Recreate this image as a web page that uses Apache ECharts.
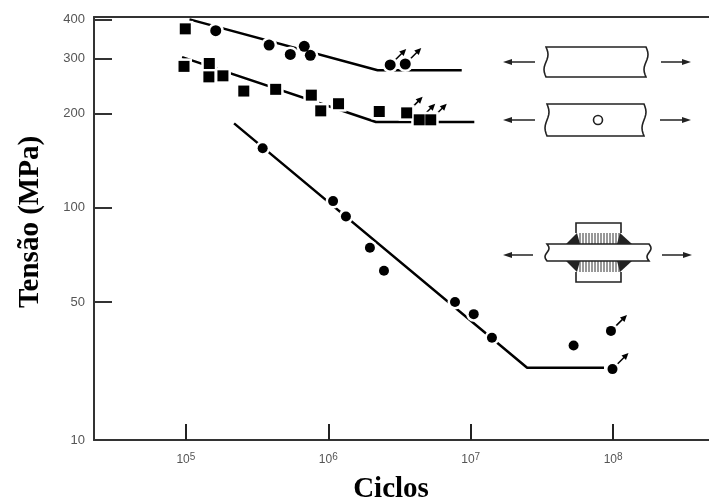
<!DOCTYPE html>
<html>
<head>
<meta charset="utf-8">
<style>
  html, body { margin: 0; padding: 0; background: #fff; }
  #chart { width: 709px; height: 504px; }
</style>
<script src="https://cdn.jsdelivr.net/npm/echarts@6/dist/echarts.min.js"></script>
</head>
<body>
<div id="chart"></div>
<script>
// [ciclos, tensão em MPa]
var plainLine = [[1.06e5, 400], [2.22e6, 275], [8.65e6, 275]];
var plainPoints = [[1.62e5, 368], [3.84e5, 331], [5.41e5, 309], [6.78e5, 328], [7.48e5, 307]];
var plainRunouts = [[2.72e6, 286], [3.47e6, 288]];

var holeLine = [[0.94e5, 303], [2.16e6, 188], [1.06e7, 188]];
var holePoints = [[0.99e5, 373], [0.97e5, 283], [1.46e5, 289], [1.45e5, 262], [1.82e5, 264], [2.55e5, 236],
  [4.27e5, 239], [7.6e5, 229], [8.85e5, 204], [1.18e6, 215], [2.28e6, 203]];
var holeRunouts = [[3.55e6, 201], [4.35e6, 191], [5.24e6, 191]];

var weldLine = [[2.18e5, 186], [2.49e7, 30.8], [8.63e7, 30.8]];
var weldPoints = [[3.46e5, 155], [1.08e6, 105], [1.33e6, 93.8], [1.96e6, 74.5], [2.46e6, 62.9],
  [7.76e6, 50], [1.05e7, 45.7], [1.41e7, 38.4], [5.28e7, 36.3]];
var weldRunouts = [[9.66e7, 40.4], [9.9e7, 30.5]];

var xTicks = [1e5, 1e6, 1e7, 1e8];
// no original a escala e interrompida abaixo de 50: o "10" fica no fim do eixo, em 18.1
var yBreakValue = 18.1;
var yTicks = [yBreakValue, 50, 100, 200, 300, 400];

var ink = '#000';
var axisInk = '#333';
var labelInk = '#555';

// marca branca por baixo abre o pequeno corte na linha, como no original
function markSeries(points, symbol, size) {
  return [{
    type: 'scatter', data: points, symbol: symbol, symbolSize: size + 5, z: 3, silent: true,
    itemStyle: { color: '#fff', opacity: 1 }
  }, {
    type: 'scatter', data: points, symbol: symbol, symbolSize: size, z: 4, silent: true,
    itemStyle: { color: ink, opacity: 1 }
  }];
}

function lineSeries(points) {
  return {
    type: 'line', data: points, symbol: 'none', z: 2, silent: true,
    lineStyle: { color: ink, width: 2.5 }
  };
}

// seta curta saindo do ponto: corpo de prova que nao rompeu
function renderRunout(params, api) {
  var p = api.coord([api.value(0), api.value(1)]);
  var tip = [p[0] + 16, p[1] - 16];
  return {
    type: 'group',
    children: [{
      type: 'line',
      shape: { x1: p[0], y1: p[1], x2: tip[0] - 3, y2: tip[1] + 3 },
      style: { stroke: ink, lineWidth: 1.5 }
    }, {
      type: 'polygon',
      shape: { points: [tip, [tip[0] - 7, tip[1] + 2.5], [tip[0] - 2.5, tip[1] + 7]] },
      style: { fill: ink }
    }]
  };
}

function runoutSeries(points) {
  return {
    type: 'custom', data: points, renderItem: renderRunout, z: 3, silent: true, clip: false,
    encode: { x: 0, y: 1 }
  };
}

function arrow(x1, x2, y) {
  var dir = x2 > x1 ? 1 : -1;
  return [{
    type: 'line',
    shape: { x1: x1, y1: y, x2: x2 - dir * 6, y2: y },
    style: { stroke: '#222', lineWidth: 1.5 }
  }, {
    type: 'polygon',
    shape: { points: [[x2, y], [x2 - dir * 9, y - 3], [x2 - dir * 9, y + 3]] },
    style: { fill: '#222' }
  }];
}

// tira com as pontas onduladas
function strip(x0, x1, y0, y1) {
  var pts = [];
  var i;
  for (i = 0; i <= 12; i++) {
    pts.push([x1 + 2 * Math.sin(i / 6 * Math.PI), y0 + (y1 - y0) * i / 12]);
  }
  for (i = 12; i >= 0; i--) {
    pts.push([x0 + 2 * Math.sin(i / 6 * Math.PI), y0 + (y1 - y0) * i / 12]);
  }
  return {
    type: 'polygon', z: 2,
    shape: { points: pts },
    style: { fill: '#fff', stroke: '#222', lineWidth: 1.6 }
  };
}

function weldBlock(yOuter, yInner, yPlate) {
  var els = [{
    type: 'polyline',
    shape: { points: [[576, yInner], [576, yOuter], [621, yOuter], [621, yInner]] },
    style: { fill: 'none', stroke: '#222', lineWidth: 1.6 }
  }, {
    type: 'polygon',
    shape: { points: [[566, yPlate], [577, yInner], [580, yPlate]] },
    style: { fill: '#222' }
  }, {
    type: 'polygon',
    shape: { points: [[632, yPlate], [620, yInner], [617, yPlate]] },
    style: { fill: '#222' }
  }];
  for (var x = 580; x < 620; x += 3) {
    els.push({
      type: 'line',
      shape: { x1: x, y1: yInner, x2: x, y2: yPlate },
      style: { stroke: '#333', lineWidth: 1 }
    });
  }
  return els;
}

var sketches = [].concat(
  arrow(535, 503, 62), arrow(661, 691, 62), [strip(546, 646, 47, 77)],
  arrow(535, 503, 120), arrow(660, 691, 120), [strip(547, 644, 104, 136), {
    type: 'circle', z: 3,
    shape: { cx: 598, cy: 120, r: 4.5 },
    style: { fill: '#fff', stroke: '#222', lineWidth: 1.6 }
  }],
  arrow(533, 503, 255), arrow(662, 692, 255),
  weldBlock(223, 233, 244), weldBlock(282, 272, 261), [strip(547, 649, 244, 261)]
);

var chart = echarts.init(document.getElementById('chart'));
chart.setOption({
  animation: false,
  backgroundColor: '#fff',
  grid: { left: 94, right: 0, top: 17, bottom: 64 },
  xAxis: [{
    type: 'log',
    min: 22630,
    max: 4.714e8,
    axisLine: { lineStyle: { color: axisInk, width: 2 } },
    axisTick: { inside: true, length: 16, customValues: xTicks, lineStyle: { color: '#222', width: 2 } },
    minorTick: { show: false },
    splitLine: { show: false },
    axisLabel: {
      customValues: xTicks,
      margin: 12,
      formatter: function (v) {
        return '{b|10}{s|' + Math.round(Math.log10(v)) + '}';
      },
      rich: {
        b: { fontFamily: 'Liberation Sans', fontSize: 12, color: labelInk },
        s: { fontFamily: 'Liberation Sans', fontSize: 10, color: labelInk, padding: [0, 0, 6, 0] }
      }
    }
  }, {
    // traco superior do quadro
    type: 'log',
    position: 'top',
    min: 22630,
    max: 4.714e8,
    axisLine: { lineStyle: { color: axisInk, width: 2 } },
    axisTick: { show: false },
    axisLabel: { show: false },
    splitLine: { show: false }
  }],
  yAxis: {
    type: 'log',
    min: yBreakValue,
    max: 407,
    axisLine: { lineStyle: { color: axisInk, width: 2 } },
    axisTick: { inside: true, length: 18, customValues: yTicks, lineStyle: { color: '#333', width: 2 } },
    minorTick: { show: false },
    splitLine: { show: false },
    axisLabel: {
      customValues: yTicks,
      margin: 9,
      fontFamily: 'Liberation Sans',
      fontSize: 13,
      color: labelInk,
      formatter: function (v) {
        return v === yBreakValue ? '10' : String(Math.round(v));
      }
    }
  },
  graphic: sketches.concat([{
    type: 'text',
    x: 31, y: 222, rotation: Math.PI / 2,
    style: {
      text: 'Tensão (MPa)', align: 'center', verticalAlign: 'middle',
      font: 'bold 29px "Liberation Serif"', fill: '#000'
    }
  }, {
    type: 'text',
    x: 391, y: 490,
    style: {
      text: 'Ciclos', align: 'center', verticalAlign: 'middle',
      font: 'bold 29px "Liberation Serif"', fill: '#000'
    }
  }]),
  series: [].concat(
    lineSeries(plainLine), markSeries(plainPoints.concat(plainRunouts), 'circle', 11), runoutSeries(plainRunouts),
    lineSeries(holeLine), markSeries(holePoints.concat(holeRunouts), 'rect', 11), runoutSeries(holeRunouts),
    lineSeries(weldLine), markSeries(weldPoints.concat(weldRunouts), 'circle', 10), runoutSeries(weldRunouts)
  )
});
</script>
</body>
</html>
